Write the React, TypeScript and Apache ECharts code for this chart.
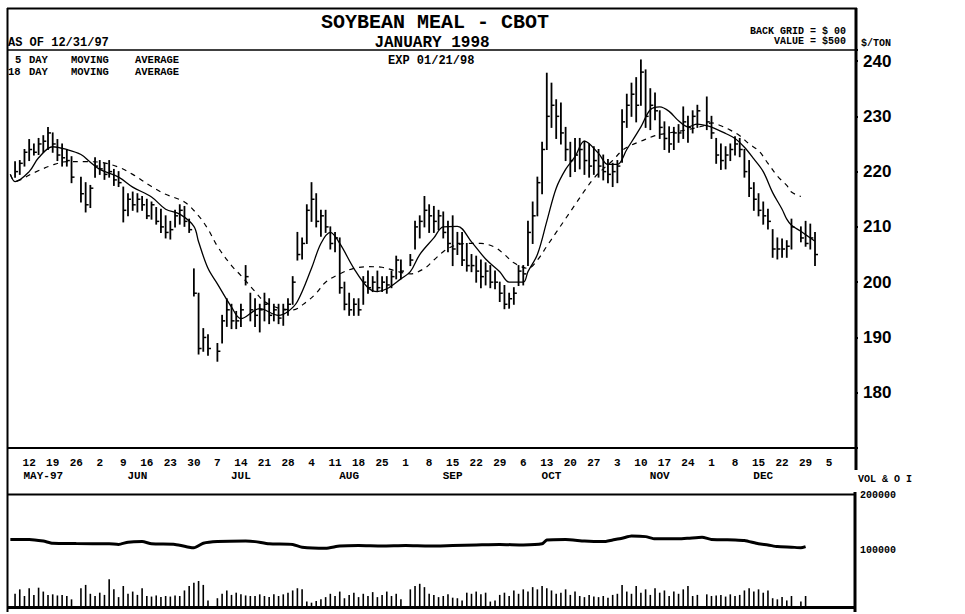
import React, { useEffect, useRef } from "react";
import * as echarts from "echarts";

// ---------- DATA ----------
const axisStart = "1997-05-06"; // first weekday slot on the date axis
const axisSlots = 180; // weekday slots shown on the date axis
const refMonday = "1997-05-12"; // day offset 0 (first labelled Monday)
const lastLabelDay = "1998-01-05"; // last labelled Monday
const firstTradingDay = "1997-05-07";
const lastTradingDay = "1997-12-31";
const holidays = ["1997-05-26", "1997-07-04", "1997-09-01", "1997-11-27", "1997-12-25"];

// daily high / low / close ($/ton), one per trading day
const highs = [
  221.8, 222, 224, 225.8, 225, 226, 226.5, 228, 227, 225.8, 225, 224, 222.7,
  219, 218, 217.5, 222.5, 222, 221.5, 222, 220.4, 220, 217.2, 216, 216.3, 216, 215.5, 215, 214.5, 213.5, 213.2, 212, 211, 213, 214, 213.7, 211.4, 202.4, 198, 191.6, 190.5,
  188.9, 194, 197, 196, 194.7, 196, 203, 198, 197, 196, 198, 197, 196, 196, 196, 197, 201, 209, 208, 214, 218, 216, 213, 213, 210, 209, 208, 200, 198, 197, 197, 201, 202, 201, 202, 201, 201, 202, 204.7, 204,
  205, 211, 212, 215.5, 214, 213.7, 213, 212.7, 211, 212, 209, 209, 207, 205, 204.7, 204, 203.5, 203, 202,
  200, 199.4, 198, 199, 203, 203, 211, 214.5, 219, 225.3, 237.8, 236, 233, 232.4, 228, 225.3, 226,
  226, 225.5, 225, 224.5, 224, 223, 222.2, 221.5, 222, 231.2, 234, 236, 237, 240.2, 238.4, 235, 234.2, 231, 229, 228.1, 228, 228.5, 231.7, 230,
  231, 232, 233.5, 230, 226, 225, 224.5, 225, 226.3, 226, 224, 222, 218, 216, 214.5, 213.2, 209.5, 208, 207.8, 207.5, 211.4,
  210, 211, 210.5, 209,
];
const lows = [
  219, 219.5, 221, 222, 223, 223.1, 223.5, 224, 223.5, 222, 221, 221, 218,
  214.5, 212.7, 213.5, 219, 219.5, 218.6, 219, 217.5, 217.3, 210.9, 212, 213, 212.7, 213, 211.5, 211.4, 210.5, 209, 208, 207.8, 210, 210.5, 210.1, 209, 197.5, 187, 187.5, 186.8,
  185.7, 189, 192, 191.6, 191.6, 192, 199.5, 193, 192, 191, 193, 192.5, 193, 192.5, 192.2, 194, 196, 204, 204.2, 207, 211, 210, 208.3, 209, 206, 205.5, 198, 195, 194, 194, 194, 196, 198, 198.3, 198.5, 198.3, 198, 199, 200.6, 200.6,
  203, 206, 208, 210, 209, 209, 209.5, 208, 205.5, 203, 205, 203, 202, 201.9, 200, 199, 199.5, 199, 198.8,
  196.5, 195.2, 195.3, 196, 199.4, 199.5, 203, 207, 212, 216, 224, 228, 226, 225, 222, 219.1, 220,
  220.5, 219.5, 219, 219.5, 219, 218.5, 218, 217.3, 218, 221.7, 228, 230, 229, 232, 228, 227.6, 229.4, 226, 224, 223.5, 224, 225.3, 226, 225.3,
  227, 228, 227.6, 226, 221.5, 220.4, 220.5, 222, 223, 222.7, 219, 215.5, 213, 212, 210.5, 209.6, 204.5, 204.2, 204.5, 204.5, 206,
  207.3, 206.5, 206, 203,
];
const closes = [
  220, 221.5, 223.5, 224, 223.5, 225, 225.5, 227, 225, 223, 222.5, 222, 219,
  216, 214, 217, 221, 220.5, 219.5, 220, 218.5, 218, 213, 215, 214, 215, 214, 212, 214, 211, 210, 209, 209.5, 212, 213, 211, 209.5, 198, 188, 190, 188,
  187.5, 193, 195, 193, 193, 195, 201, 195, 194, 195, 196, 194, 195, 193.5, 195, 196, 200, 205, 207, 213, 215, 211, 212, 210, 207, 208, 199, 196, 195, 196, 195, 200, 199, 200, 199, 200, 199.5, 201, 204, 202,
  204, 210, 211, 213, 212, 211, 212, 209, 207, 206, 207, 204, 203, 203, 202, 201, 202, 200, 200,
  198, 196, 197, 198, 202, 201.5, 209, 212, 218, 224, 230, 232, 230, 227, 224, 222, 223,
  224, 222, 221, 222, 221, 220, 219.5, 220, 221, 229, 232, 234, 232, 238, 230, 232, 231, 228, 226, 225, 227, 227, 229, 228,
  230, 231, 229, 227, 223, 222, 223, 224, 225, 224, 220, 217, 215, 213, 212, 211, 206, 206, 206, 206.5, 210,
  208, 207, 208, 205,
];
// daily volume (thousands of contracts), one per trading day
const volumeK = [
  22, 30, 18, 32, 20, 33, 26, 20, 21, 19, 20, 18, 12,
  32, 38, 22, 18, 24, 20, 48, 30, 16, 36, 22, 26, 20, 32, 18, 17, 19, 16, 18, 17, 19, 18, 28, 36, 42, 45, 38, 10,
  14, 22, 28, 20, 24, 21, 19, 18, 18, 21, 18, 16, 21, 18, 21, 24, 28, 32, 30, 8, 6, 9, 12, 16, 22, 18, 26, 14, 20, 24, 16, 22, 18, 25, 16, 20, 26, 18, 22, 12,
  30, 36, 40, 34, 22, 20, 16, 18, 21, 15, 14, 10, 24, 22, 26, 21, 24, 8, 10,
  20, 24, 18, 28, 22, 30, 26, 34, 30, 36, 32, 28, 22, 24, 30, 20, 26,
  18, 16, 20, 17, 16, 18, 15, 20, 22, 38, 26, 22, 36, 24, 30, 20, 32, 24, 28, 18, 26, 22, 30, 36,
  18, 20, 21, 18, 19, 20, 17, 21, 18, 20, 28, 32, 26, 30, 24, 28, 14, 12, 16, 10, 18,
  8, 18, null, null,
];
// [day offset from 1997-05-12 (weekdays), value]
const ma5 = [
  [-4, 219.5], [-3, 218.2], [0, 220], [2, 222.5], [5, 224.5], [8, 224], [11, 223.1], [13, 221.7], [15, 220.4],
  [19, 219], [22, 217.2], [26, 215.4], [29, 213.2], [32, 212.3], [35, 210.1], [36, 207.3], [38, 202.5], [40, 199.7],
  [43, 195.5], [45, 193.4], [49, 195.2], [53, 194], [55, 194.7], [57, 196.5], [60, 202.5], [62, 207], [64, 209],
  [66, 207], [69, 202.5], [72, 199], [74, 198.3], [76, 198.8], [79, 200.6], [81, 201.9], [83, 205], [86, 208],
  [88, 210], [91, 210.1], [94, 207.3], [97, 204.2], [100, 201.9], [102, 200], [105, 200], [106, 201.9], [108, 205],
  [110, 211], [112, 217], [114, 220.4], [116, 222.7], [118, 225.5], [121, 223.3], [123, 221.3], [125, 221.3],
  [127, 224], [130, 228.1], [132, 231.2], [134, 231.7], [136, 230.9], [138, 229.2], [140, 228.1], [142, 228.6],
  [144, 228.3], [146, 227.7], [148, 226.9], [150, 226], [152, 224.4], [154, 222.3], [156, 220], [158, 216.2],
  [160, 213.2], [161, 211.4], [162, 210.3], [164, 209.2], [165, 208.6], [167, 207.4],
];
const ma18 = [
  [-4, 219.5], [-3, 218.3], [1, 219.8], [5, 221.2], [8, 221.8], [12, 221.8], [15, 221.7], [19, 220.8], [22, 219.5],
  [26, 217.3], [29, 215.9], [33, 214.5], [36, 212], [38, 209.6], [40, 206.5], [43, 203], [45, 201.2], [48, 198.3],
  [50, 196.5], [53, 195.3], [56, 195], [59, 196.5], [61, 198], [63, 200], [66, 201.5], [69, 202.5], [72, 202.8],
  [75, 202.7], [78, 202], [81, 201.5], [84, 202.5], [86, 204], [88, 205.5], [90, 206.5], [93, 207], [96, 207],
  [99, 206.3], [101, 205], [103, 203.5], [106, 202.5], [108, 204], [110, 206.5], [112, 209], [114, 211.5],
  [116, 214], [118, 216.5], [120, 218.8], [122, 220.5], [124, 222], [126, 223.8], [128, 224.8], [130, 225.5],
  [133, 226.5], [136, 227], [140, 227.6], [143, 228.2], [145, 228.8], [147, 228.3], [149, 227.5], [151, 226.5],
  [153, 225], [155, 223.8], [157, 221.5], [159, 219.2], [161, 217.5], [162, 216.3], [164, 215.5],
];
// open interest (thousands) [day offset, value]
const openInterestK = [
  [-4, 120], [0, 120], [3, 117], [5, 113], [10, 112.5], [17, 112], [19, 111], [21, 115], [24, 116], [26, 112],
  [31, 111], [34, 106], [35, 105], [37, 113], [40, 116], [46, 117], [48, 116], [51, 112], [56, 111], [58, 106],
  [63, 104], [66, 108], [70, 109], [75, 108], [80, 109], [85, 108], [90, 109], [95, 110], [100, 111], [105, 110],
  [109, 112], [110, 119], [114, 120], [118, 117], [122, 116], [124, 119], [126, 122], [128, 126], [131, 125],
  [133, 121], [138, 121], [140, 122], [143, 124], [145, 120], [150, 119], [152, 118], [155, 112], [157, 110],
  [159, 107], [162, 106], [164, 105], [165, 107],
];
const priceTicks = [180, 190, 200, 210, 220, 230, 240];
const volTicks = [100000, 200000];
const monthLabels = [
  ["1997-05-15", "MAY-97"], ["1997-06-12", "JUN"], ["1997-07-14", "JUL"], ["1997-08-14", "AUG"],
  ["1997-09-15", "SEP"], ["1997-10-14", "OCT"], ["1997-11-14", "NOV"], ["1997-12-16", "DEC"],
];

// ---------- helpers ----------
function buildWeekdays(start: string, count: number): string[] {
  const out: string[] = [];
  const d = new Date(start + "T00:00:00Z");
  while (out.length < count) {
    const wd = d.getUTCDay();
    if (wd !== 0 && wd !== 6) out.push(d.toISOString().slice(0, 10));
    d.setUTCDate(d.getUTCDate() + 1);
  }
  return out;
}

const MONO = '"Liberation Mono", "DejaVu Sans Mono", monospace';
const SANS = '"Liberation Sans", Arial, sans-serif';

export default function App() {
  const ref = useRef<HTMLDivElement | null>(null);

  useEffect(() => {
    if (!ref.current) return;
    const chart = echarts.init(ref.current, undefined, { renderer: "svg" });

    const cats = buildWeekdays(axisStart, axisSlots);
    const refIdx = cats.indexOf(refMonday);
    const lastLabelIdx = cats.indexOf(lastLabelDay);
    const tradingIdx = cats
      .map((c, i) => [c, i] as [string, number])
      .filter(([c]) => c >= firstTradingDay && c <= lastTradingDay && !holidays.includes(c))
      .map(([, i]) => i);

    const bars = tradingIdx.map((ci, k) => [ci, highs[k], lows[k], closes[k]]);
    const volData: (number | null)[] = cats.map(() => null);
    tradingIdx.forEach((ci, k) => {
      const v = volumeK[k];
      volData[ci] = v == null ? null : v * 1000;
    });
    const toCat = (pts: number[][], mult = 1) => pts.map(([d, v]) => [d + refIdx, v * mult]);

    const monthMap: Record<number, string> = {};
    monthLabels.forEach(([date, lab]) => {
      monthMap[cats.indexOf(date)] = lab;
    });

    const text = (t: string, x: number, y: number, size: number, align = "left", family = MONO) => ({
      type: "text",
      x,
      y,
      z: 100,
      style: {
        text: t,
        fill: "#000",
        font: `bold ${size}px ${family}`,
        textAlign: align,
        textVerticalAlign: "middle",
      },
    });
    const hline = (x1: number, x2: number, y: number, w: number) => ({
      type: "line",
      z: 100,
      shape: { x1, y1: y, x2, y2: y },
      style: { stroke: "#000", lineWidth: w },
    });
    const vline = (x: number, y1: number, y2: number, w: number) => ({
      type: "line",
      z: 100,
      shape: { x1: x, y1, x2: x, y2 },
      style: { stroke: "#000", lineWidth: w },
    });

    const option: any = {
      animation: false,
      backgroundColor: "#fff",
      grid: [
        { left: 8, right: 110, top: 50, height: 398 },
        { left: 8, right: 110, top: 495, height: 111 },
      ],
      xAxis: [
        {
          type: "category",
          gridIndex: 0,
          data: cats,
          position: "bottom",
          axisLine: { show: false },
          axisTick: { show: false },
          splitLine: { show: false },
          axisLabel: {
            interval: (i: number) => i >= refIdx && i <= lastLabelIdx && (i - refIdx) % 5 === 0,
            formatter: (v: string) => String(parseInt(v.slice(8, 10), 10)),
            margin: 9,
            color: "#000",
            fontFamily: MONO,
            fontWeight: "bold",
            fontSize: 11,
          },
        },
        {
          type: "category",
          gridIndex: 0,
          data: cats,
          position: "bottom",
          axisLine: { show: false },
          axisTick: { show: false },
          splitLine: { show: false },
          axisLabel: {
            interval: (i: number) => monthMap[i] !== undefined,
            formatter: (_v: string, i: number) => monthMap[i] || "",
            margin: 22,
            color: "#000",
            fontFamily: MONO,
            fontWeight: "bold",
            fontSize: 11,
          },
        },
        {
          type: "category",
          gridIndex: 1,
          data: cats,
          axisLine: { show: false },
          axisTick: { show: false },
          axisLabel: { show: false },
          splitLine: { show: false },
        },
      ],
      yAxis: [
        {
          type: "value",
          gridIndex: 0,
          position: "right",
          min: 170,
          max: 242,
          interval: 10,
          splitLine: { show: false },
          axisLine: { show: false },
          axisTick: { show: true, length: 3, lineStyle: { color: "#000", width: 2 } },
          axisLabel: {
            formatter: (v: number) => (priceTicks.includes(v) ? String(v) : ""),
            margin: 8,
            color: "#000",
            fontFamily: SANS,
            fontWeight: "bold",
            fontSize: 17,
          },
        },
        {
          type: "value",
          gridIndex: 1,
          position: "right",
          min: 0,
          max: 200000,
          interval: 100000,
          splitLine: { show: false },
          axisLine: { show: false },
          axisTick: { show: false },
          axisLabel: {
            formatter: (v: number) => (volTicks.includes(v) ? String(v) : ""),
            margin: 5,
            padding: [8, 0, 0, 0],
            color: "#000",
            fontFamily: MONO,
            fontWeight: "bold",
            fontSize: 10,
          },
        },
      ],
      series: [
        {
          type: "custom",
          name: "price",
          xAxisIndex: 0,
          yAxisIndex: 0,
          encode: { x: 0, y: [1, 2, 3] },
          data: bars,
          renderItem: (_p: any, api: any) => {
            const x = api.value(0);
            const hi = api.coord([x, api.value(1)]);
            const lo = api.coord([x, api.value(2)]);
            const cl = api.coord([x, api.value(3)]);
            return {
              type: "group",
              children: [
                {
                  type: "line",
                  shape: { x1: hi[0], y1: hi[1] - 0.5, x2: lo[0], y2: lo[1] + 0.5 },
                  style: { stroke: "#000", lineWidth: 1.8 },
                },
                {
                  type: "line",
                  shape: { x1: cl[0], y1: cl[1], x2: cl[0] + 3, y2: cl[1] },
                  style: { stroke: "#000", lineWidth: 1.5 },
                },
              ],
            };
          },
        },
        {
          type: "line",
          name: "5 day",
          xAxisIndex: 0,
          yAxisIndex: 0,
          data: toCat(ma5),
          smooth: 0.35,
          symbol: "none",
          lineStyle: { color: "#000", width: 1.3 },
          z: 5,
        },
        {
          type: "line",
          name: "18 day",
          xAxisIndex: 0,
          yAxisIndex: 0,
          data: toCat(ma18),
          smooth: 0.35,
          symbol: "none",
          lineStyle: { color: "#000", width: 1.2, type: [5, 5] },
          z: 5,
        },
        {
          type: "bar",
          name: "volume",
          xAxisIndex: 2,
          yAxisIndex: 1,
          data: volData,
          barWidth: 1.6,
          itemStyle: { color: "#000" },
        },
        {
          type: "line",
          name: "open interest",
          xAxisIndex: 2,
          yAxisIndex: 1,
          data: toCat(openInterestK, 1000),
          symbol: "none",
          smooth: 0.2,
          lineStyle: { color: "#000", width: 3 },
        },
      ],
      graphic: [
        // frame
        vline(7.5, 8, 612, 2),
        hline(7, 857, 8.5, 2),
        vline(856, 8, 470, 3),
        vline(855, 492, 612, 3),
        hline(7, 856, 50, 1.5),
        hline(7, 856, 448, 2),
        hline(7, 855, 494.5, 2),
        hline(7, 855, 607.5, 3),
        // header texts
        text("SOYBEAN MEAL - CBOT", 435, 22, 20, "center"),
        text("JANUARY 1998", 432, 42.5, 16, "center"),
        text("AS OF 12/31/97", 8, 43, 12),
        text("BACK GRID = $ 00", 846, 31, 10, "right"),
        text("VALUE = $500", 846, 41.5, 10, "right"),
        text("$/TON", 861, 43, 10),
        text("5", 15, 60, 10.5),
        text("DAY", 29, 60, 10.5),
        text("MOVING", 71, 60, 10.5),
        text("AVERAGE", 135, 60, 10.5),
        text("18", 8, 72, 10.5),
        text("DAY", 29, 72, 10.5),
        text("MOVING", 71, 72, 10.5),
        text("AVERAGE", 135, 72, 10.5),
        text("EXP 01/21/98", 388, 61, 12),
        text("VOL & O I", 858, 479, 10),
      ],
    };

    chart.setOption(option);
    return () => chart.dispose();
  }, []);

  return (
    <div
      ref={ref}
      style={{ position: "absolute", left: 0, top: 0, width: 965, height: 614, background: "#fff" }}
    />
  );
}
